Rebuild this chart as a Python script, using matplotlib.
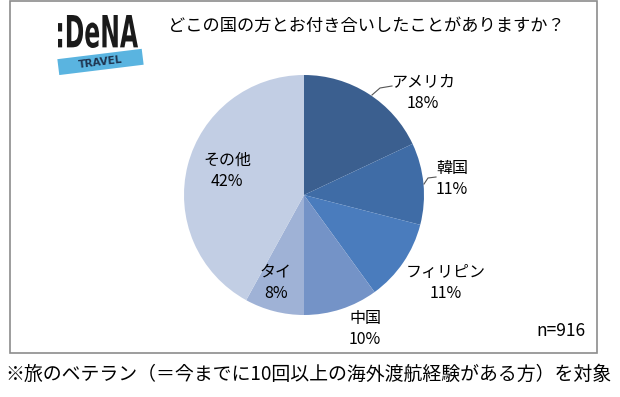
import matplotlib
matplotlib.use("Agg")
import matplotlib.pyplot as plt
from matplotlib.patches import Rectangle, PathPatch
from matplotlib.textpath import TextPath
from matplotlib.font_manager import FontProperties
import matplotlib.transforms as mtransforms

plt.rcParams['font.family'] = ['Noto Sans CJK JP', 'DejaVu Sans']

# data
labels = ["アメリカ", "韓国", "フィリピン", "中国", "タイ", "その他"]
shares = [18, 11, 11, 10, 8, 42]
colors = ["#3b5f8f", "#3f6ca6", "#4a7cbd", "#7493c7", "#9fb2d6", "#c2cee4"]
title = "どこの国の方とお付き合いしたことがありますか？"
note = "※旅のベテラン（＝今までに10回以上の海外渡航経験がある方）を対象"
n_text = "n=916"

W, H = 620, 397
fig = plt.figure(figsize=(W / 100, H / 100), dpi=100)
px2fig = mtransforms.Affine2D().scale(1 / W, 1 / H) + fig.transFigure  # pixel (y up) -> figure

# outer frame
fig.patches.append(Rectangle((10, H - 353), 587, 352, transform=px2fig,
                             fill=False, edgecolor="#8c8c8c", linewidth=1.2))

# pie centred at (304,195) px with radius 120 px
cx, cy, r = 304, 195, 120
ax = fig.add_axes([(cx - r) / W, (H - cy - r) / H, 2 * r / W, 2 * r / H])
ax.pie(shares, colors=colors, startangle=90, counterclock=False,
       radius=1, wedgeprops=dict(linewidth=0))
ax.set_xlim(-1, 1)
ax.set_ylim(-1, 1)
ax.set_aspect("equal")
ax.axis("off")

# labels (pixel positions of label centres, y from top)
label_pos = [(423, 82), (452, 169), (446, 273), (365, 318), (276, 272), (227, 160)]
for lab, val, (px, py) in zip(labels, shares, label_pos):
    fig.text(px / W, 1 - py / H, lab, ha="center", va="center", fontsize=11.5)
    fig.text(px / W, 1 - (py + 21) / H, f"{val}%", ha="center", va="center", fontsize=11.5)

# leader lines
fig.add_artist(plt.Line2D([372, 380, 392], [H - 95, H - 88, H - 86],
                          transform=px2fig, color="#555555", linewidth=0.8))
fig.add_artist(plt.Line2D([424, 428, 436], [H - 184, H - 178, H - 177],
                          transform=px2fig, color="#555555", linewidth=0.8))

# title
fig.text(366 / W, 1 - 26 / H, title, ha="center", va="center", fontsize=12.4)

# logo: squeezed bold text fitted into a box
tp = TextPath((0, 0), ":DeNA", size=40, prop=FontProperties(family="DejaVu Sans", weight="bold"))
ext = tp.get_extents()
x0, x1, ytop, ybot = 58, 138, 15, 48
fit = (mtransforms.Affine2D().translate(-ext.x0, -ext.y0)
       .scale((x1 - x0) / ext.width, (ybot - ytop) / ext.height)
       .translate(x0, H - ybot))
fig.patches.append(PathPatch(tp, transform=fit + px2fig, facecolor="#1a1a1a", edgecolor="none"))
rot = mtransforms.Affine2D().rotate_deg_around(100, H - 62, 7)
fig.patches.append(Rectangle((58, H - 70), 85, 16, transform=rot + px2fig,
                             facecolor="#5ab4e0", edgecolor="none"))
fig.text(100 / W, 1 - 62 / H, "TRAVEL", ha="center", va="center", fontsize=7.5,
         fontweight="bold", color="#1f3550", rotation=7, family="DejaVu Sans")

# sample size
fig.text(585 / W, 1 - 331 / H, n_text, ha="right", va="center", fontsize=12.5)

# footnote
fig.text(5 / W, 1 - 374 / H, note, ha="left", va="center", fontsize=13.6)

fig.savefig("out.png", dpi=100)
